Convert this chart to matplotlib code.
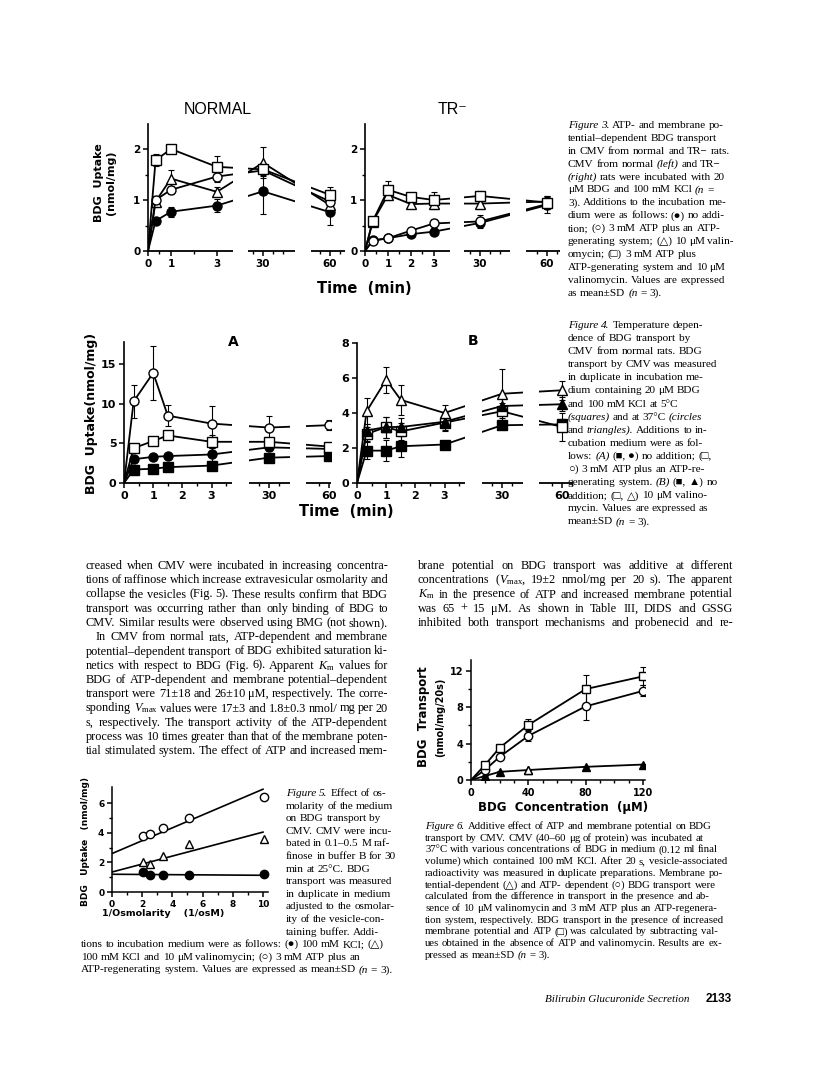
import numpy as np
import matplotlib
matplotlib.use('Agg')
import matplotlib.pyplot as plt

plt.rcParams['font.family'] = ['DejaVu Sans']
plt.rcParams['mathtext.fontset'] = 'custom'
plt.rcParams['mathtext.rm'] = 'Liberation Serif'
plt.rcParams['mathtext.it'] = 'Liberation Serif:italic'
plt.rcParams['mathtext.bf'] = 'Liberation Serif:bold'

# ---- Figure 3 data (BDG uptake, nmol/mg) ----
t_norm = [0, 0.33, 1, 3, 30, 60]
norm_none = [0, 0.59, 0.77, 0.89, 1.17, 0.76]
norm_none_sd = [0, 0.04, 0.1, 0.12, 0.45, 0.25]
norm_atp = [0, 1.0, 1.2, 1.46, 1.58, 0.97]
norm_atp_sd = [0, 0.06, 0.08, 0.1, 0.1, 0.1]
norm_val = [0, 0.97, 1.42, 1.16, 1.73, 0.9]
norm_val_sd = [0, 0.1, 0.17, 0.1, 0.3, 0.1]
norm_both = [0, 1.78, 2.0, 1.65, 1.6, 1.1]
norm_both_sd = [0, 0.12, 0.04, 0.22, 0.1, 0.15]

t_tr = [0, 0.33, 1, 2, 3, 30, 60]
tr_none = [0, 0.21, 0.25, 0.33, 0.38, 0.55, 0.9]
tr_none_sd = [0, 0.03, 0.03, 0.04, 0.05, 0.05, 0.15]
tr_atp = [0, 0.2, 0.25, 0.4, 0.54, 0.58, 0.92]
tr_atp_sd = [0, 0.03, 0.04, 0.06, 0.08, 0.12, 0.1]
tr_val = [0, 0.57, 1.1, 0.92, 0.93, 0.93, 0.97]
tr_val_sd = [0, 0.05, 0.1, 0.07, 0.1, 0.1, 0.1]
tr_both = [0, 0.58, 1.2, 1.06, 1.0, 1.08, 0.95]
tr_both_sd = [0, 0.05, 0.17, 0.05, 0.15, 0.1, 0.12]

# ---- Figure 4 data ----
t_temp = [0, 0.33, 1, 1.5, 3, 30, 60]
a_atp37 = [0, 10.3, 13.9, 8.5, 7.5, 7.0, 7.3]
a_atp37_sd = [0, 2.1, 3.4, 1.3, 2.2, 1.4, 0.6]
a_atp5 = [0, 4.4, 5.3, 6.0, 5.2, 5.2, 4.6]
a_atp5_sd = [0, 0.3, 0.4, 0.3, 0.8, 0.5, 0.4]
a_none37 = [0, 3.0, 3.3, 3.4, 3.6, 4.5, 4.3]
a_none37_sd = [0, 0.3, 0.4, 0.3, 0.8, 0.5, 0.4]
a_none5 = [0, 1.7, 1.8, 2.0, 2.2, 3.2, 3.4]
a_none5_sd = [0, 0.2, 0.2, 0.2, 0.2, 0.2, 0.2]

b_val37 = [0, 4.1, 5.9, 4.75, 4.0, 5.1, 5.3]
b_val37_sd = [0, 0.75, 0.75, 0.85, 0.45, 1.4, 0.55]
b_none37 = [0, 3.0, 3.2, 3.2, 3.5, 4.4, 4.5]
b_none37_sd = [0, 0.4, 0.6, 0.5, 0.5, 0.5, 0.4]
b_val5 = [0, 2.8, 3.2, 2.95, 3.45, 4.1, 3.2]
b_val5_sd = [0, 0.4, 0.6, 0.5, 0.4, 0.5, 0.8]
b_none5 = [0, 1.85, 1.85, 2.1, 2.2, 3.3, 3.35]
b_none5_sd = [0, 0.5, 0.6, 0.6, 0.2, 0.15, 0.3]

# ---- Figure 5 data ----
inv_osm = [2.05, 2.55, 3.4, 5.1, 10.05]
osm_atp = [3.8, 3.9, 4.35, 5.0, 6.4]
osm_val = [2.05, 1.9, 2.45, 3.25, 3.6]
osm_kcl = [1.37, 1.15, 1.15, 1.15, 1.25]
fit_x = [0, 10]
fit_atp = [2.6, 6.95]
fit_val = [1.35, 4.05]
fit_kcl = [1.2, 1.13]

# ---- Figure 6 data ----
conc = [0, 10, 20, 40, 80, 120]
tr6_both = [0, 1.7, 3.55, 6.05, 10.0, 11.4]
tr6_both_sd = [0, 0.25, 0.2, 0.7, 1.5, 1.0]
tr6_atp = [0, 1.15, 2.55, 4.85, 8.1, 9.8]
tr6_atp_sd = [0, 0.2, 0.2, 0.6, 1.5, 0.6]
tr6_mp = [0, 0.45, 0.9, 1.1, 1.45, 1.7]
tr6_mp_sd = [0, 0.05, 0.05, 0.05, 0.05, 0.05]

# ---- text ----
body_left = [
    "creased when CMV were incubated in increasing concentra-",
    "tions of raffinose which increase extravesicular osmolarity and",
    "collapse the vesicles (Fig. 5). These results confirm that BDG",
    "transport was occurring rather than only binding of BDG to",
    "CMV. Similar results were observed using BMG (not shown).",
    "In CMV from normal rats, ATP-dependent and membrane",
    "potential\u2013dependent transport of BDG exhibited saturation ki-",
    "netics with respect to BDG (Fig. 6). Apparent $K_\\mathrm{m}$ values for",
    "BDG of ATP-dependent and membrane potential\u2013dependent",
    "transport were 71\u00b118 and 26\u00b110 \u03bcM, respectively. The corre-",
    "sponding $V_\\mathrm{max}$ values were 17\u00b13 and 1.8\u00b10.3 nmol/ mg per 20",
    "s, respectively. The transport activity of the ATP-dependent",
    "process was 10 times greater than that of the membrane poten-",
    "tial stimulated system. The effect of ATP and increased mem-",
]
body_right = [
    "brane potential on BDG transport was additive at different",
    "concentrations ($V_\\mathrm{max}$, 19\u00b12 nmol/mg per 20 s). The apparent",
    "$K_\\mathrm{m}$ in the presence of ATP and increased membrane potential",
    "was 65 + 15 \u03bcM. As shown in Table III, DIDS and GSSG",
    "inhibited both transport mechanisms and probenecid and re-",
]
cap3 = [
    "*Figure* *3.* ATP- and membrane po-",
    "tential\u2013dependent BDG transport",
    "in CMV from normal and TR\u2212 rats.",
    "CMV from normal (*left*) and TR\u2212",
    "(*right*) rats were incubated with 20",
    "\u03bcM BDG and 100 mM KCl (*n* =",
    "3). Additions to the incubation me-",
    "dium were as follows: (\u25cf) no addi-",
    "tion; (\u25cb) 3 mM ATP plus an ATP-",
    "generating system; (\u25b3) 10 \u03bcM valin-",
    "omycin; (\u25a1) 3 mM ATP plus",
    "ATP-generating system and 10 \u03bcM",
    "valinomycin. Values are expressed",
    "as mean\u00b1SD (*n* = 3).",
]
cap4 = [
    "*Figure* *4.* Temperature depen-",
    "dence of BDG transport by",
    "CMV from normal rats. BDG",
    "transport by CMV was measured",
    "in duplicate in incubation me-",
    "dium containing 20 \u03bcM BDG",
    "and 100 mM KCl at 5\u00b0C",
    "(*squares*) and at 37\u00b0C (*circles*",
    "and *triangles*). Additions to in-",
    "cubation medium were as fol-",
    "lows: (*A*) (\u25a0, \u25cf) no addition; (\u25a1,",
    "\u25cb) 3 mM ATP plus an ATP-re-",
    "generating system. (*B*) (\u25a0, \u25b2) no",
    "addition; (\u25a1, \u25b3) 10 \u03bcM valino-",
    "mycin. Values are expressed as",
    "mean\u00b1SD (*n* = 3).",
]
cap5_narrow = [
    "*Figure* *5.* Effect of os-",
    "molarity of the medium",
    "on BDG transport by",
    "CMV. CMV were incu-",
    "bated in 0.1\u20130.5 M raf-",
    "finose in buffer B for 30",
    "min at 25\u00b0C. BDG",
    "transport was measured",
    "in duplicate in medium",
    "adjusted to the osmolar-",
    "ity of the vesicle-con-",
    "taining buffer. Addi-",
]
cap5_wide = [
    "tions to incubation medium were as follows: (\u25cf) 100 mM KCl; (\u25b3)",
    "100 mM KCl and 10 \u03bcM valinomycin; (\u25cb) 3 mM ATP plus an",
    "ATP-regenerating system. Values are expressed as mean\u00b1SD (*n* = 3).",
]
cap6 = [
    "*Figure* *6.* Additive effect of ATP and membrane potential on BDG",
    "transport by CMV. CMV (40\u201360 \u03bcg of protein) was incubated at",
    "37\u00b0C with various concentrations of BDG in medium (0.12 ml final",
    "volume) which contained 100 mM KCl. After 20 s, vesicle-associated",
    "radioactivity was measured in duplicate preparations. Membrane po-",
    "tential-dependent (\u25b3) and ATP- dependent (\u25cb) BDG transport were",
    "calculated from the difference in transport in the presence and ab-",
    "sence of 10 \u03bcM valinomycin and 3 mM ATP plus an ATP-regenera-",
    "tion system, respectively. BDG transport in the presence of increased",
    "membrane potential and ATP (\u25a1) was calculated by subtracting val-",
    "ues obtained in the absence of ATP and valinomycin. Results are ex-",
    "pressed as mean\u00b1SD (*n* = 3).",
]

W, H = 816, 1066
SERIF = ['Liberation Serif', 'DejaVu Sans']
fig = plt.figure(figsize=(W / 100, H / 100), dpi=100)
rend = fig.canvas.get_renderer()


def panel(x0, y0, x1, y1):
    ax = fig.add_axes([x0 / W, 1 - y1 / H, (x1 - x0) / W, (y1 - y0) / H])
    ax.patch.set_alpha(0)
    return ax


def ftext(x, y, s, **kw):
    return fig.text(x / W, 1 - y / H, s, **kw)


def make_words(line, size):
    arts, widths = [], []
    for w in line.split():
        st = 'normal'
        if '*' in w:
            st = 'italic'
            w = w.replace('*', '')
        t = fig.text(0, 0, w, fontsize=size, fontstyle=st, family=SERIF, va='baseline', ha='left')
        arts.append(t)
        widths.append(t.get_window_extent(rend).width)
    return arts, widths


def fit_size(lines, width, base=8.0):
    # font size at which the widest line just fills the column
    best = 0
    for line in lines:
        arts, widths = make_words(line, base)
        best = max(best, sum(widths) + 0.25 * base * 100 / 72 * (len(widths) - 1))
        for a in arts:
            a.remove()
    return base * width / best


def text_line(x0, y, line, size, x1=None, indent=0):
    arts, widths = make_words(line, size)
    sp = 0.25 * size * 100 / 72
    x = x0 + indent
    if x1 is not None and len(arts) > 1:
        sp = max((x1 - x - sum(widths)) / (len(arts) - 1), 0.45 * sp)
    for t, w in zip(arts, widths):
        t.set_position((x / W, 1 - (y + 3) / H))
        x += w + sp


def broken(ax, T, U, xmax, segs, gaps):
    T = np.asarray(T, float)
    U = np.asarray(U, float)
    ax.set_xscale('function', functions=(lambda t: np.interp(t, T, U), lambda u: np.interp(u, U, T)))
    ax.set_xlim(0, xmax)
    for s in ['top', 'right', 'bottom']:
        ax.spines[s].set_visible(False)
    ax.spines['left'].set_linewidth(1.2)
    for a, b in segs:
        ax.plot([a, b], [0, 0], color='k', lw=1.3, transform=ax.get_xaxis_transform(),
                clip_on=False, zorder=5, solid_capstyle='butt')
    for a, b in gaps:
        ax.axvspan(a, b, color='white', lw=0, zorder=3)


def ticks(ax, xt, xminor, yt, yminor, size):
    ax.set_xticks(xt, [str(v) for v in xt], fontweight='bold', fontsize=size)
    ax.set_xticks(xminor, minor=True)
    ax.set_yticks(yt, [str(v) for v in yt], fontweight='bold', fontsize=size)
    ax.set_yticks(yminor, minor=True)
    ax.tick_params(direction='out', length=3.5, width=1.1, pad=2)
    ax.tick_params(which='minor', direction='out', length=2.5, width=1)


def series(ax, t, y, sd, marker, filled, ms=6.5):
    ax.errorbar(t[1:], y[1:], yerr=sd[1:], fmt='none', ecolor='k', elinewidth=0.8,
                capsize=2, capthick=0.8, zorder=1.9)
    ax.plot(t, y, '-', marker=marker, color='k', lw=1.3, ms=ms, mew=1.0,
            mfc='k' if filled else 'white', mec='k', markevery=slice(1, None), zorder=2)


# ================= Figure 3 =================
T3 = [0, 3.7, 22.5, 46, 50.5, 68]
U3 = [0, 85, 100, 147, 163, 198]

ax = panel(148, 123.5, 345, 251)
broken(ax, T3, U3, 67.5, [(0, 3.7), (22.5, 46), (50.5, 67.5)], [(3.7, 22.5), (46, 50.5)])
ax.set_ylim(0, 2.5)
series(ax, t_norm, norm_none, norm_none_sd, 'o', True)
series(ax, t_norm, norm_val, norm_val_sd, '^', False)
series(ax, t_norm, norm_atp, norm_atp_sd, 'o', False)
series(ax, t_norm, norm_both, norm_both_sd, 's', False)
ticks(ax, [0, 1, 3, 30, 60], [0.5, 2, 25, 35, 40, 55, 65], [0, 1, 2], [0.5, 1.5], 7.5)

ax = panel(365, 123.5, 560, 251)
broken(ax, T3, U3, 66.5, [(0, 3.7), (21.5, 45), (50, 66.5)], [(3.7, 21.5), (45, 50)])
ax.set_ylim(0, 2.5)
series(ax, t_tr, tr_none, tr_none_sd, 'o', True)
series(ax, t_tr, tr_atp, tr_atp_sd, 'o', False)
series(ax, t_tr, tr_val, tr_val_sd, '^', False)
series(ax, t_tr, tr_both, tr_both_sd, 's', False)
ticks(ax, [0, 1, 2, 3, 30, 60], [0.5, 1.5, 2.5, 25, 35, 40, 55, 65], [0, 1, 2], [0.5, 1.5], 7.5)

ftext(218, 110, 'NORMAL', fontsize=11.5, family=['Liberation Sans'], ha='center', va='center')
ftext(453, 110, 'TR\u207b', fontsize=11.5, family=['Liberation Sans', 'DejaVu Sans'], ha='center', va='center')
ftext(105, 183, 'BDG  Uptake\n(nmol/mg)', rotation=90, fontsize=8, fontweight='bold',
      ha='center', va='center', multialignment='center', linespacing=1.3)
ftext(364, 288, 'Time  (min)', fontsize=10.5, fontweight='bold', ha='center', va='center')

# ================= Figure 4 =================
T4 = [0, 3.7, 20, 40.5, 48.5, 66]
U4 = [0, 108, 125, 166, 182, 217]

ax = panel(124, 342, 331, 483)
broken(ax, T4, U4, 61, [(0, 3.7), (20, 40.5), (48.5, 61)], [(3.7, 20), (40.5, 48.5)])
ax.set_ylim(0, 17.8)
series(ax, t_temp, a_none5, a_none5_sd, 's', True)
series(ax, t_temp, a_none37, a_none37_sd, 'o', True)
series(ax, t_temp, a_atp5, a_atp5_sd, 's', False)
series(ax, t_temp, a_atp37, a_atp37_sd, 'o', False)
ticks(ax, [0, 1, 2, 3, 30, 60], [0.5, 1.5, 2.5, 3.5, 25, 35, 55], [0, 5, 10, 15], [], 8)

ax = panel(357, 343, 573, 483)
broken(ax, T4, U4, 65.5, [(0, 3.7), (20, 40.5), (48.5, 65.5)], [(3.7, 20), (40.5, 48.5)])
ax.set_ylim(0, 8)
series(ax, t_temp, b_none5, b_none5_sd, 's', True)
series(ax, t_temp, b_val5, b_val5_sd, 's', False)
series(ax, t_temp, b_none37, b_none37_sd, '^', True)
series(ax, t_temp, b_val37, b_val37_sd, '^', False)
ticks(ax, [0, 1, 2, 3, 30, 60], [0.5, 1.5, 2.5, 3.5, 25, 35, 55, 65], [0, 2, 4, 6, 8], [], 8)

ftext(233, 342, 'A', fontsize=10, fontweight='bold', ha='center', va='center')
ftext(473, 341, 'B', fontsize=10, fontweight='bold', ha='center', va='center')
ftext(92, 413, 'BDG  Uptake(nmol/mg)', rotation=90, fontsize=9, fontweight='bold', ha='center', va='center')
ftext(346, 511, 'Time  (min)', fontsize=10.5, fontweight='bold', ha='center', va='center')

# ================= Figure 5 =================
ax = panel(112, 787, 267.5, 892)
ax.set_xlim(0, 10.3)
ax.set_ylim(0, 7.1)
for s in ['top', 'right']:
    ax.spines[s].set_visible(False)
for s in ['left', 'bottom']:
    ax.spines[s].set_linewidth(1.1)
ax.plot(fit_x, fit_atp, color='k', lw=1.2)
ax.plot(fit_x, fit_val, color='k', lw=1.2)
ax.plot(fit_x, fit_kcl, color='k', lw=1.2)
ax.plot(inv_osm, osm_atp, 'o', ms=6, mfc='white', mec='k', mew=1.0, clip_on=False)
ax.plot(inv_osm, osm_val, '^', ms=6, mfc='white', mec='k', mew=1.0, clip_on=False)
ax.plot(inv_osm, osm_kcl, 'o', ms=6, mfc='k', mec='k', clip_on=False)
ticks(ax, [0, 2, 4, 6, 8, 10], [1, 3, 5, 7, 9], [0, 2, 4, 6], [1, 3, 5], 6.5)
ftext(86, 842, 'BDG   Uptake   (nmol/mg)', rotation=90, fontsize=6.5, fontweight='bold', ha='center', va='center')
ftext(163, 914, '1/Osmolarity    (1/osM)', fontsize=6.8, fontweight='bold', ha='center', va='center')

# ================= Figure 6 =================
ax = panel(471, 660, 645, 780)
ax.set_xlim(0, 121.4)
ax.set_ylim(0, 13.2)
for s in ['top', 'right']:
    ax.spines[s].set_visible(False)
for s in ['left', 'bottom']:
    ax.spines[s].set_linewidth(1.1)
series(ax, conc, tr6_mp, tr6_mp_sd, '^', True, 5.5)
ax.plot(conc[3], tr6_mp[3], '^', ms=5.5, mfc='white', mec='k', mew=1.0, zorder=2.1)
series(ax, conc, tr6_atp, tr6_atp_sd, 'o', False, 6)
series(ax, conc, tr6_both, tr6_both_sd, 's', False, 6)
ticks(ax, [0, 40, 80, 120], [10, 20, 30, 50, 60, 70, 90, 100, 110], [0, 4, 8, 12], [2, 6, 10], 7)
ftext(423, 717, 'BDG  Transport', rotation=90, fontsize=8.5, fontweight='bold', ha='center', va='center')
ftext(440, 717, '(nmol/mg/20s)', rotation=90, fontsize=7, fontweight='bold', ha='center', va='center')
ftext(563, 807, 'BDG  Concentration  (\u03bcM)', fontsize=8.5, fontweight='bold', ha='center', va='center')

# ================= text blocks =================
s_cap = fit_size(cap3 + cap4, 166)
s_body = fit_size(body_left + body_right, 302) * 1.02
s_cap5 = fit_size(cap5_wide, 311)
s_cap6 = fit_size(cap6, 302)

for i, line in enumerate(cap3):
    text_line(568, 125 + 12.9 * i, line, s_cap)
for i, line in enumerate(cap4):
    text_line(568, 325 + 13.1 * i, line, s_cap)
for i, line in enumerate(body_left):
    text_line(86, 566 + 14.25 * i, line, s_body, x1=388, indent=10 if i == 5 else 0)
for i, line in enumerate(body_right):
    text_line(418, 566 + 14.25 * i, line, s_body, x1=733)
for i, line in enumerate(cap5_narrow):
    text_line(286, 793 + 12.6 * i, line, s_cap5)
for i, line in enumerate(cap5_wide):
    text_line(81, 793 + 12.6 * (len(cap5_narrow) + i), line, s_cap5)
for i, line in enumerate(cap6):
    text_line(425, 826 + 11.7 * i, line, s_cap6)

ftext(545, 1002, 'Bilirubin Glucuronide Secretion', fontsize=8, fontstyle='italic', family=SERIF,
      ha='left', va='baseline')
ftext(706, 1002, '2133', fontsize=8.5, fontweight='bold', family=['Liberation Sans'], ha='left', va='baseline')

fig.savefig('out.png', dpi=100, facecolor='white')
